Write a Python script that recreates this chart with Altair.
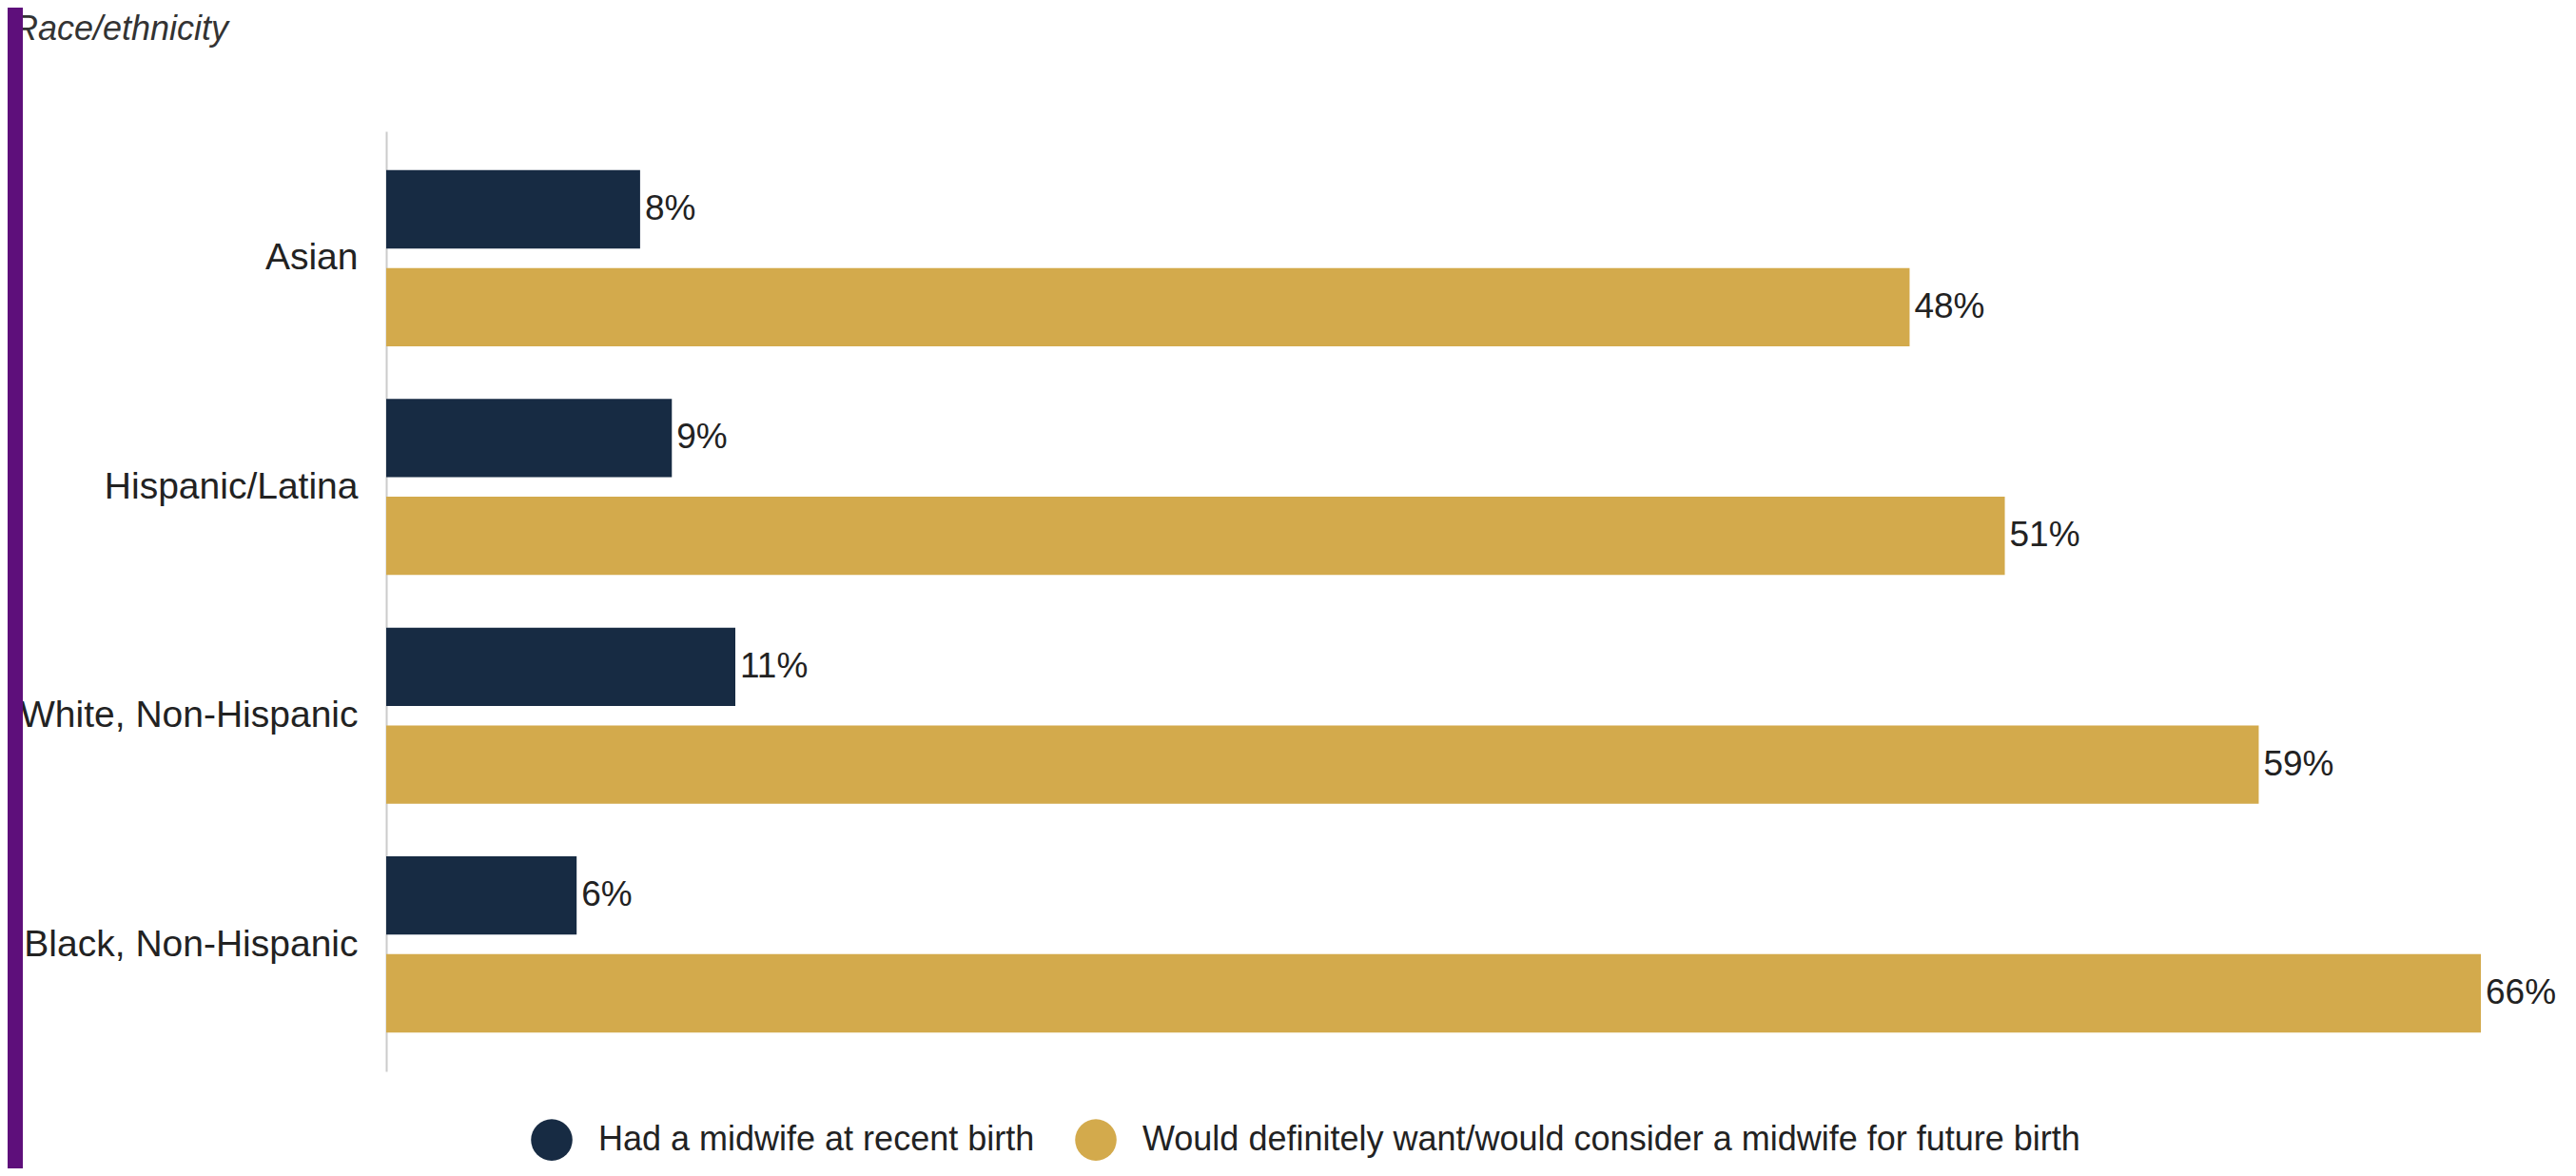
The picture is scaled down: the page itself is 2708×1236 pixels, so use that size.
import altair as alt
import pandas as pd

categories = ["Asian", "Hispanic/Latina", "White, Non-Hispanic", "Black, Non-Hispanic"]
series = ["Had a midwife at recent birth",
          "Would definitely want/would consider a midwife for future birth"]
had_midwife = [8, 9, 11, 6]
would_want = [48, 51, 59, 66]
colors = ["#172B43", "#D3AA4C"]

rows = []
for c, a, b in zip(categories, had_midwife, would_want):
    rows.append({"group": c, "series": series[0], "value": a})
    rows.append({"group": c, "series": series[1], "value": b})
df = pd.DataFrame(rows)

FONT = "Liberation Sans"

y_enc = alt.Y("group:N", sort=categories,
              scale=alt.Scale(paddingInner=0.23, paddingOuter=0.17),
              axis=alt.Axis(title=None, ticks=False, labelFontSize=39, labelColor="#222222",
                            labelPadding=30, labelLimit=1000, labelFont=FONT,
                            domainColor="#cccccc", domainWidth=2))
yoff = alt.YOffset("series:N", sort=series, scale=alt.Scale(paddingInner=0.2, paddingOuter=0))

base = alt.Chart(df)

bars = base.mark_bar().encode(
    y=y_enc,
    yOffset=yoff,
    x=alt.X("value:Q", scale=alt.Scale(domain=[0, 66], nice=False), axis=None),
    color=alt.Color("series:N", sort=series,
                    scale=alt.Scale(domain=series, range=colors),
                    legend=alt.Legend(title=None, orient="none", direction="horizontal",
                                      legendX=152, legendY=1038, symbolType="circle",
                                      symbolSize=1900, symbolStrokeWidth=0, symbolOpacity=1,
                                      labelFontSize=36, labelFont=FONT, labelColor="#222222",
                                      labelOffset=27, columnPadding=42, labelLimit=2000)),
)

labels = base.mark_text(align="left", baseline="middle", dx=5, fontSize=37,
                        font=FONT, color="#222222").encode(
    y=alt.Y("group:N", sort=categories),
    yOffset=yoff,
    x="value:Q",
    text=alt.Text("label:N"),
).transform_calculate(label="datum.value + '%'")

one = alt.Chart(pd.DataFrame({"k": [0]}))

title = one.mark_text(align="left", baseline="middle", fontSize=36, font=FONT,
                      fontStyle="italic", color="#333333").encode(
    x=alt.value(-392), y=alt.value(-107), text=alt.value("Race/ethnicity"))

purple = one.mark_rect(color="#5E0F7B").encode(
    x=alt.value(-400), x2=alt.value(-382), y=alt.value(-140), y2=alt.value(1100))

chart = alt.layer(bars, labels, title, purple).properties(
    width=2202, height=988,
    background="white",
    autosize=alt.AutoSizeParams(type="none"),
    padding={"left": 398, "top": 130, "right": 90, "bottom": 102},
).configure_view(stroke=None)

chart.save("out.html", embed_options={"renderer": "svg", "actions": False})
